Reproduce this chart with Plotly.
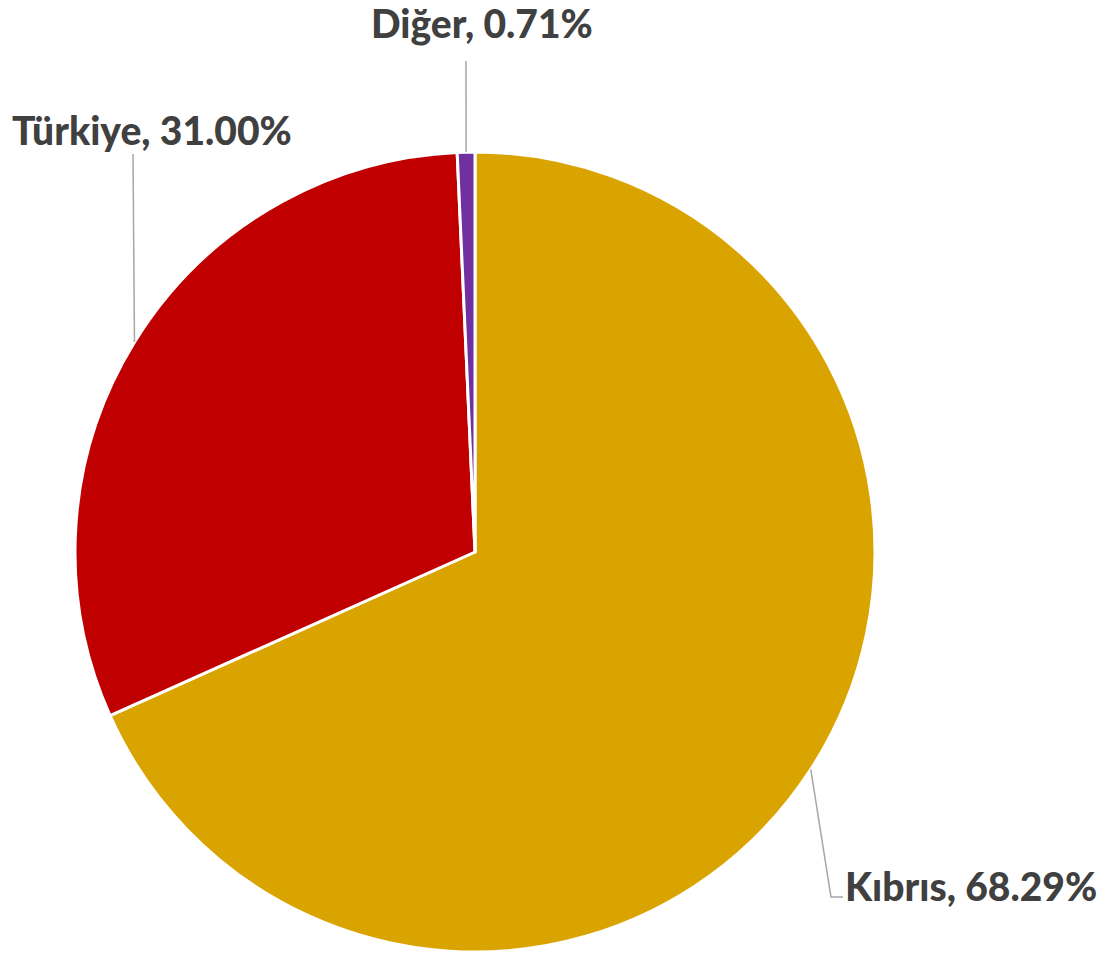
import math
import plotly.graph_objects as go

labels = ["Kıbrıs", "Türkiye", "Diğer"]
values = [68.29, 31.00, 0.71]
colors = ["#DAA400", "#C00000", "#7030A0"]

W, H = 1102, 956
cx, cy, R = 475, 552, 400  # pie centre / radius in pixels

def px(x):
    return x / W

def py(y):
    return 1 - y / H

fig = go.Figure(go.Pie(
    labels=labels, values=values, sort=False, direction="clockwise", rotation=0,
    marker=dict(colors=colors, line=dict(color="white", width=3)),
    textinfo="none", hoverinfo="label+percent", showlegend=False,
    domain=dict(x=[px(cx - R), px(cx + R)], y=[py(cy + R), py(cy - R)]),
))

# anchor points on the rim at each slice's mid-angle
total = sum(values)
cum = 0
anchors = []
for v in values:
    mid = (cum + v / 2) / total * 2 * math.pi
    anchors.append((cx + R * math.sin(mid), cy - R * math.cos(mid)))
    cum += v

line_style = dict(color="#A6A6A6", width=1.5)
font = dict(family="Lato, 'Open Sans', sans-serif", size=39, color="#404040", weight=900)

# label placements (pixel positions of text), leader-line elbows
label_pos = [(971, 886, "center"), (152, 130, "center"), (482, 23, "center")]
elbows = [[(831, 897), (843, 897)], [(133, 154)], [(466, 61)]]

shapes = []
for (ax, ay), pts in zip(anchors, elbows):
    path = f"M {px(ax)},{py(ay)}"
    for (x, y) in pts:
        path += f" L {px(x)},{py(y)}"
    shapes.append(dict(type="path", xref="paper", yref="paper", path=path,
                       line=line_style))

annotations = []
for lab, v, (x, y, al) in zip(labels, values, label_pos):
    annotations.append(dict(
        text=f"{lab}, {v / total * 100:.2f}%", x=px(x), y=py(y),
        xref="paper", yref="paper", showarrow=False, font=font,
        xanchor=al, yanchor="middle"))

fig.update_layout(
    width=W, height=H, margin=dict(l=0, r=0, t=0, b=0),
    paper_bgcolor="white", plot_bgcolor="white",
    shapes=shapes, annotations=annotations,
)
fig.write_html("out.html", config={"displayModeBar": False},
               post_script="document.body.style.margin='0';document.body.style.overflow='hidden';")
